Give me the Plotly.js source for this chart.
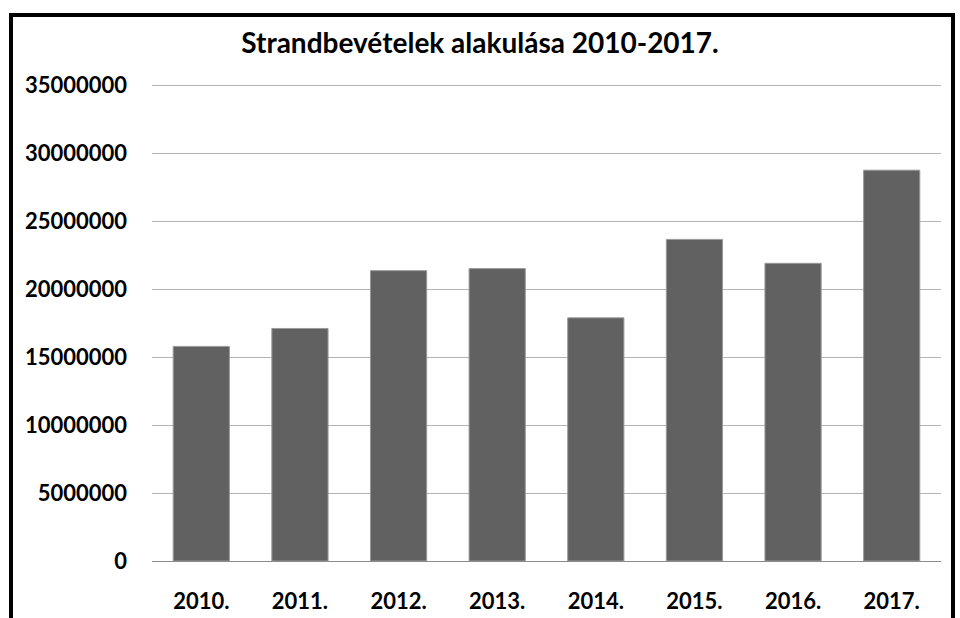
<!DOCTYPE html>
<html>
<head>
<meta charset="utf-8">
<script src="https://cdn.plot.ly/plotly-3.0.1.min.js"></script>
<style>
  html, body { margin: 0; padding: 0; background: #ffffff; }
  #wrap { position: relative; width: 960px; height: 618px; overflow: hidden; }
  #frame { position: absolute; left: 9px; top: 13px; width: 946px; height: 640px; border: 4px solid #000; box-sizing: border-box; pointer-events: none; z-index: 2; }
  #chart { position: absolute; left: 0; top: 0; width: 960px; height: 618px; }
</style>
</head>
<body>
<div id="wrap">
  <div id="chart"></div>
  <div id="frame"></div>
</div>
<script>
const categories = ["2010.", "2011.", "2012.", "2013.", "2014.", "2015.", "2016.", "2017."];
const revenue = [15780000, 17100000, 21350000, 21500000, 17880000, 23650000, 21890000, 28740000];
const yTicks = [0, 5000000, 10000000, 15000000, 20000000, 25000000, 30000000, 35000000];
const yTickLabels = ["0", "5000000", "10000000", "15000000", "20000000", "25000000", "30000000", "35000000"];
const chartTitle = "Strandbevételek alakulása 2010-2017.";

const font = "Lato, 'Open Sans', 'DejaVu Sans', sans-serif";

const data = [{
  type: "bar",
  x: categories,
  y: revenue,
  marker: { color: "#616161", line: { color: "#9a9a9a", width: 1 } },
  hoverinfo: "x+y"
}];

const layout = {
  width: 960,
  height: 618,
  margin: { l: 152, r: 19, t: 83, b: 57 },
  paper_bgcolor: "rgba(0,0,0,0)",
  plot_bgcolor: "#ffffff",
  bargap: 0.43,
  showlegend: false,
  title: {
    text: "<b>" + chartTitle + "</b>",
    font: { family: font, size: 28, color: "#000000" },
    x: 0.5, xanchor: "center",
    y: 1 - 43 / 618, yanchor: "middle"
  },
  xaxis: {
    type: "category",
    tickfont: { family: font, size: 22, color: "#000000", weight: "bold" },
    showgrid: false,
    showline: false,
    ticks: "",
    ticklabelstandoff: 25,
    zeroline: false
  },
  yaxis: {
    range: [0, 35150000],
    tickmode: "array",
    tickvals: yTicks,
    ticktext: yTickLabels,
    tickfont: { family: font, size: 22, color: "#000000", weight: "bold" },
    showgrid: true,
    gridcolor: "#b3b3b3",
    gridwidth: 1,
    zeroline: true,
    zerolinecolor: "#8c8c8c",
    zerolinewidth: 1,
    showline: false,
    ticks: "",
    ticklabelstandoff: 24
  }
};

Plotly.newPlot("chart", data, layout, { displayModeBar: false, staticPlot: true });
</script>
</body>
</html>
